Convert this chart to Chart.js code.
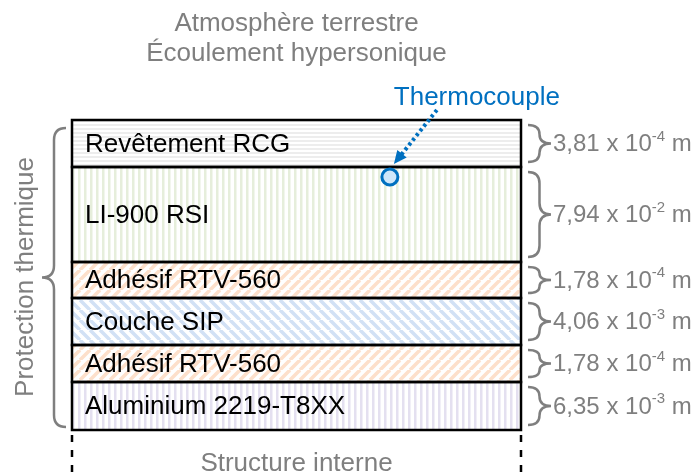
<!DOCTYPE html>
<html>
<head>
<meta charset="utf-8">
<script src="https://cdn.jsdelivr.net/npm/chart.js@4.4.1/dist/chart.umd.min.js"></script>
<style>
  html, body { margin: 0; background: #fff; }
  canvas { display: block; }
</style>
</head>
<body>
<canvas id="chart" width="694" height="475"></canvas>
<script>
// layer stack, top (exposed side) to bottom (structure)
const layerNames = ["Revêtement RCG", "LI-900 RSI", "Adhésif RTV-560", "Couche SIP", "Adhésif RTV-560", "Aluminium 2219-T8XX"]
// drawn height of each layer in the sketch (not to scale)
const drawnHeights = [47, 95, 36, 47, 37, 48]
// real thickness, written as mantissa x 10^exp m
const thicknessMant = ["3,81", "7,94", "1,78", "4,06", "1,78", "6,35"]
const thicknessExp = ["-4", "-2", "-4", "-3", "-4", "-3"]
const hatchColors = ["#ededed", "#e6eedb", "#fde0cb", "#d2e1f5", "#fde0cb", "#e4e0f0"]
const hatchKinds = ["h", "v", "fwd", "back", "fwd", "v"]

const titleLines = ["Atmosphère terrestre", "Écoulement hypersonique"]
const sideLabel = "Protection thermique"
const bottomLabel = "Structure interne"
const probeLabel = "Thermocouple"

const FONT = "'Liberation Sans', Arial, sans-serif"
const GRAY = "#7f7f7f"
const BLUE = "#0070c0"

function hatch(kind, color) {
  const s = kind === "h" ? 4 : kind === "v" ? 6 : 10
  const c = document.createElement("canvas")
  c.width = s; c.height = s
  const g = c.getContext("2d")
  g.fillStyle = "#fff"
  g.fillRect(0, 0, s, s)
  g.fillStyle = color
  g.strokeStyle = color
  if (kind === "h") g.fillRect(0, 0, s, 2)
  else if (kind === "v") g.fillRect(0, 0, 2.5, s)
  else {
    g.lineWidth = 3.5
    for (const x0 of [-s, 0, s]) {
      g.beginPath()
      if (kind === "fwd") { g.moveTo(x0, s); g.lineTo(x0 + s, 0) }
      else { g.moveTo(x0, 0); g.lineTo(x0 + s, s) }
      g.stroke()
    }
  }
  return g.createPattern(c, "repeat")
}

// curly brace between y0 and y1, back at x, tip at x + w (w < 0 points left)
function brace(ctx, x, y0, y1, w) {
  const h = w / 2
  const ym = (y0 + y1) / 2
  const q = Math.min(Math.abs(h), (y1 - y0) / 4)
  ctx.beginPath()
  ctx.moveTo(x, y0)
  ctx.quadraticCurveTo(x + h, y0, x + h, y0 + q)
  ctx.lineTo(x + h, ym - q)
  ctx.quadraticCurveTo(x + h, ym, x + w, ym)
  ctx.quadraticCurveTo(x + h, ym, x + h, ym + q)
  ctx.lineTo(x + h, y1 - q)
  ctx.quadraticCurveTo(x + h, y1, x, y1)
  ctx.stroke()
}

const annotations = {
  id: "annotations",
  afterDatasetsDraw(chart) {
    const { ctx, chartArea: a } = chart
    const y = chart.scales.y
    const cx = (a.left + a.right) / 2
    ctx.save()

    // layer outlines + names + right-hand thickness braces
    layerNames.forEach((name, i) => {
      const el = chart.getDatasetMeta(i).data[0]
      const top = Math.min(el.y, el.base), bot = Math.max(el.y, el.base)
      const mid = (top + bot) / 2
      ctx.strokeStyle = "#000"
      ctx.lineWidth = 2.5
      ctx.strokeRect(a.left, top, a.right - a.left, bot - top)

      ctx.fillStyle = "#000"
      ctx.font = `26px ${FONT}`
      ctx.textAlign = "left"
      ctx.textBaseline = "middle"
      ctx.fillText(name, a.left + 13, mid + 1)

      ctx.strokeStyle = GRAY
      ctx.lineWidth = 2.5
      brace(ctx, a.right + 7, top + 5, bot - 5, 23)

      ctx.fillStyle = GRAY
      let tx = a.right + 32
      ctx.font = `24px ${FONT}`
      const base = thicknessMant[i] + " x 10"
      ctx.fillText(base, tx, mid + 1)
      tx += ctx.measureText(base).width
      ctx.font = `15px ${FONT}`
      ctx.fillText(thicknessExp[i], tx, mid - 7)
      tx += ctx.measureText(thicknessExp[i]).width
      ctx.font = `24px ${FONT}`
      ctx.fillText(" m", tx, mid + 1)
    })

    // title
    ctx.fillStyle = GRAY
    ctx.font = `26px ${FONT}`
    ctx.textAlign = "center"
    ctx.textBaseline = "alphabetic"
    ctx.fillText(titleLines[0], cx, 31)
    ctx.fillText(titleLines[1], cx, 61)
    ctx.fillText(bottomLabel, cx, 471)

    // left brace + rotated label
    ctx.strokeStyle = GRAY
    ctx.lineWidth = 2.5
    brace(ctx, a.left - 6, a.top + 8, a.bottom - 3, -24)
    ctx.save()
    ctx.translate(33, (a.top + a.bottom) / 2 + 2)
    ctx.rotate(-Math.PI / 2)
    ctx.fillText(sideLabel, 0, 0)
    ctx.restore()

    // dashed continuation of the structure
    ctx.strokeStyle = "#000"
    ctx.lineWidth = 2.5
    ctx.setLineDash([7, 8])
    for (const x of [a.left, a.right]) {
      ctx.beginPath()
      ctx.moveTo(x, a.bottom + 5)
      ctx.lineTo(x, chart.height)
      ctx.stroke()
    }
    ctx.setLineDash([])

    // thermocouple probe, just under the RCG / LI-900 interface
    const px = a.left + 0.708 * (a.right - a.left)
    const py = y.getPixelForValue(drawnHeights[0] + 10)
    const sx = px + 47, sy = py - 67
    const tipX = px + 4, tipY = py - 13
    const ang = Math.atan2(tipY - sy, tipX - sx)
    ctx.strokeStyle = BLUE
    ctx.fillStyle = BLUE
    ctx.lineWidth = 4
    ctx.setLineDash([3, 3])
    ctx.beginPath()
    ctx.moveTo(sx, sy)
    ctx.lineTo(tipX - 10 * Math.cos(ang), tipY - 10 * Math.sin(ang))
    ctx.stroke()
    ctx.setLineDash([])
    ctx.beginPath()
    ctx.moveTo(tipX, tipY)
    ctx.lineTo(tipX - 13 * Math.cos(ang) + 6 * Math.sin(ang), tipY - 13 * Math.sin(ang) - 6 * Math.cos(ang))
    ctx.lineTo(tipX - 13 * Math.cos(ang) - 6 * Math.sin(ang), tipY - 13 * Math.sin(ang) + 6 * Math.cos(ang))
    ctx.closePath()
    ctx.fill()

    ctx.beginPath()
    ctx.arc(px, py, 8, 0, Math.PI * 2)
    ctx.fillStyle = "#cfe7fa"
    ctx.fill()
    ctx.lineWidth = 3
    ctx.stroke()

    ctx.fillStyle = BLUE
    ctx.font = `26px ${FONT}`
    ctx.textAlign = "center"
    ctx.fillText(probeLabel, px + 87, 105)

    ctx.restore()
  }
}

new Chart(document.getElementById("chart").getContext("2d"), {
  type: "bar",
  data: {
    labels: ["pile"],
    datasets: layerNames.map((name, i) => ({
      label: name,
      data: [drawnHeights[i]],
      backgroundColor: hatch(hatchKinds[i], hatchColors[i]),
      borderWidth: 0,
      barPercentage: 1,
      categoryPercentage: 1
    }))
  },
  options: {
    responsive: false,
    animation: false,
    layout: { padding: { left: 72, right: 173, top: 120, bottom: 45 } },
    plugins: { legend: { display: false }, tooltip: { enabled: false } },
    scales: {
      x: { display: false, stacked: true },
      y: { display: false, stacked: true, reverse: true, min: 0, max: drawnHeights.reduce((s, v) => s + v, 0) }
    }
  },
  plugins: [annotations]
})
</script>
</body>
</html>
